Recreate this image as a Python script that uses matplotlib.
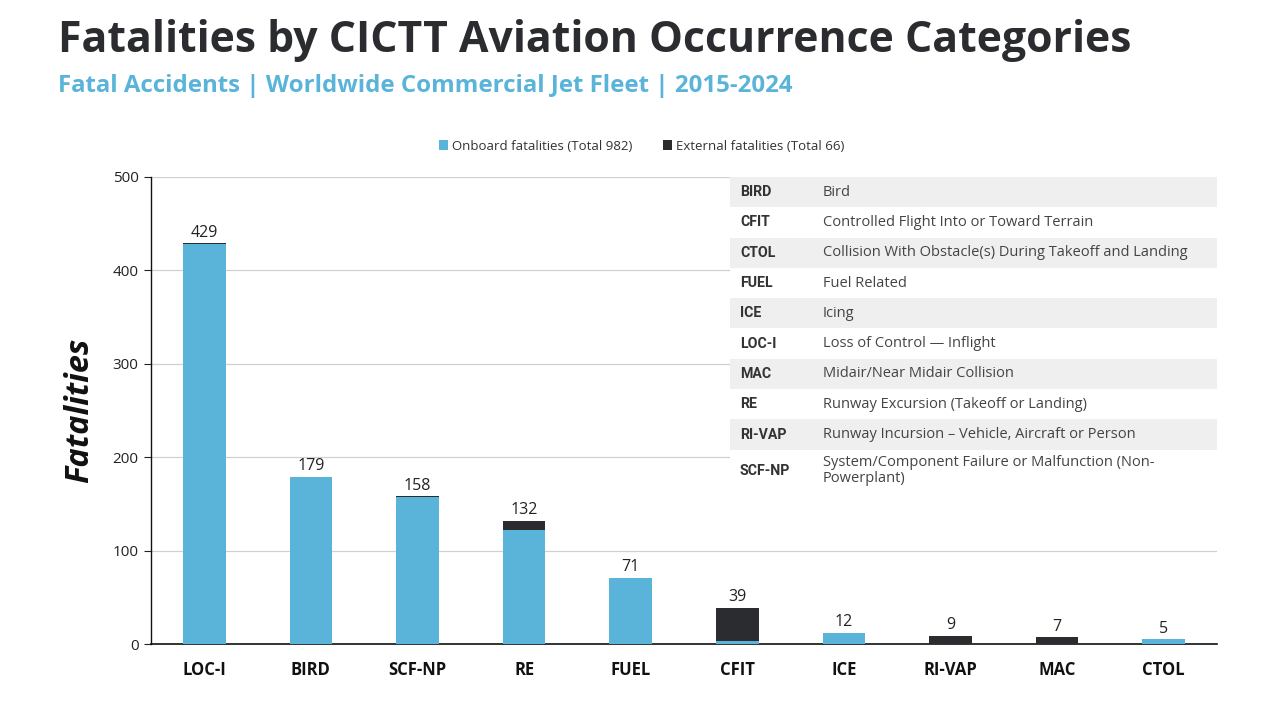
import matplotlib
matplotlib.use("Agg")
import matplotlib.pyplot as plt
from matplotlib.patches import Rectangle
import numpy as np

plt.rcParams['font.family'] = ['Open Sans', 'DejaVu Sans']

categories = ["LOC-I", "BIRD", "SCF-NP", "RE", "FUEL", "CFIT", "ICE", "RI-VAP", "MAC", "CTOL"]
onboard = [428, 179, 157, 122, 71, 3, 12, 0, 0, 5]
external = [1, 0, 1, 10, 0, 36, 0, 9, 7, 0]
totals = [429, 179, 158, 132, 71, 39, 12, 9, 7, 5]
yticks = [0, 100, 200, 300, 400, 500]

codes = ["BIRD", "CFIT", "CTOL", "FUEL", "ICE", "LOC-I", "MAC", "RE", "RI-VAP", "SCF-NP"]
descriptions = [
    "Bird",
    "Controlled Flight Into or Toward Terrain",
    "Collision With Obstacle(s) During Takeoff and Landing",
    "Fuel Related",
    "Icing",
    "Loss of Control \u2014 Inflight",
    "Midair/Near Midair Collision",
    "Runway Excursion (Takeoff or Landing)",
    "Runway Incursion \u2013 Vehicle, Aircraft or Person",
    "System/Component Failure or Malfunction (Non-\nPowerplant)",
]

BLUE = "#5ab4d9"
DARK = "#2b2c30"
W, H = 1280, 720

fig = plt.figure(figsize=(12.8, 7.2), dpi=100)
ax = fig.add_axes([151 / W, 1 - 644 / H, (1217 - 151) / W, (644 - 177) / H])

x = np.arange(len(categories))
ax.bar(x, onboard, width=0.4, color=BLUE, zorder=3, label="Onboard fatalities (Total 982)")
ax.bar(x, external, width=0.4, bottom=onboard, color=DARK, zorder=3, label="External fatalities (Total 66)")
for xi, t in zip(x, totals):
    ax.text(xi, t + 3, str(t), ha="center", va="bottom", fontsize=11.5, color="#222222")

ax.set_xlim(-0.5, len(categories) - 0.5)
ax.set_ylim(0, 500)
ax.set_yticks(yticks)
ax.set_yticklabels([str(v) for v in yticks], fontsize=11, color="#222222")
ax.set_xticks(x)
ax.set_xticklabels(categories, fontsize=12, fontweight="bold", color="#111111")
ax.tick_params(axis="x", length=0, pad=12)
ax.tick_params(axis="y", length=5, width=0.8, color="#222222", pad=4)
ax.yaxis.grid(True, color="#d0d0d0", linewidth=0.9, zorder=0)
ax.set_axisbelow(True)
for s in ["top", "right"]:
    ax.spines[s].set_visible(False)
ax.spines["left"].set_color("#111111")
ax.spines["bottom"].set_color("#111111")
ax.spines["left"].set_linewidth(1.0)
ax.spines["bottom"].set_linewidth(1.2)

ax.set_ylabel("Fatalities", fontsize=23.5, fontweight="bold", style="italic", color="#111111", labelpad=12)

leg = fig.legend(loc="center", bbox_to_anchor=(642 / W, 1 - 146 / H), ncol=2, frameon=False,
                 fontsize=9.5, handlelength=0.7, handleheight=0.7, handletextpad=0.3, columnspacing=2.3)
for t in leg.get_texts():
    t.set_color("#333333")

# Title and subtitle
fig.text(58 / W, 1 - 41 / H, "Fatalities by CICTT Aviation Occurrence Categories", fontsize=30.8,
         fontweight="bold", color="#2b2c30", va="center", ha="left")
fig.text(58 / W, 1 - 86 / H, "Fatal Accidents | Worldwide Commercial Jet Fleet | 2015-2024", fontsize=17.3,
         fontweight="bold", color=BLUE, va="center", ha="left")

# Glossary table
row_tops = [177, 207.3, 237.6, 267.9, 298.2, 328.5, 358.8, 389.1, 419.4, 449.7]
row_h = 30.3
tx0, tx1 = 730, 1217
for i, (c, d) in enumerate(zip(codes, descriptions)):
    top = row_tops[i]
    h = row_h if i < len(codes) - 1 else 42
    fc = "#efefef" if i % 2 == 0 else "white"
    fig.patches.append(Rectangle((tx0 / W, 1 - (top + h) / H), (tx1 - tx0) / W, h / H,
                                 transform=fig.transFigure, facecolor=fc, edgecolor="none", zorder=5))
    yc = 1 - (top + h / 2) / H
    fig.text(740 / W, yc, c, fontsize=10.2, fontweight="bold", color="#333333", va="center", ha="left",
             zorder=6, family=["Roboto", "DejaVu Sans"])
    fig.text(823 / W, yc, d, fontsize=10.5, color="#444444", va="center", ha="left", zorder=6,
             linespacing=1.05)

fig.savefig("out.png", dpi=100)
